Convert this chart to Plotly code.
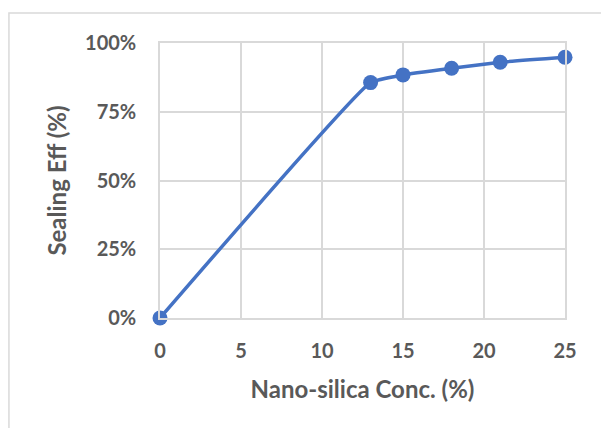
import plotly.graph_objects as go

conc = [0, 13, 15, 18, 21, 25]
eff = [0.0, 0.856, 0.884, 0.908, 0.930, 0.948]
x_ticks = [0, 5, 10, 15, 20, 25]
y_ticks = [0, 0.25, 0.5, 0.75, 1.0]
y_tick_text = ["0%", "25%", "50%", "75%", "100%"]

blue = "#4472C4"
grid = "#d9d9d9"
txt = "#595959"
fnt = "Lato"

fig = go.Figure()
fig.add_trace(go.Scatter(
    x=conc, y=eff, mode="lines+markers",
    line=dict(color=blue, width=3.5, shape="spline", smoothing=0.35),
    marker=dict(color=blue, size=15),
    cliponaxis=False, showlegend=False,
))

fig.update_layout(
    width=601, height=428,
    margin=dict(l=160, r=36, t=43, b=110),
    paper_bgcolor="white", plot_bgcolor="white",
    font=dict(family=fnt, color=txt),
    xaxis=dict(
        range=[0, 25], tickvals=x_ticks, showgrid=True, gridcolor=grid, gridwidth=1.5,
        zeroline=False, showline=True, linecolor=grid, linewidth=1.5, mirror=True,
        ticks="outside", ticklen=14, tickcolor="rgba(0,0,0,0)",
        tickfont=dict(size=20, family=fnt, color=txt, weight="bold"),
        title=dict(text="<b>Nano-silica Conc. (%)</b>", font=dict(size=24, family=fnt, color=txt), standoff=20),
    ),
    yaxis=dict(
        range=[0, 1], tickvals=y_ticks, ticktext=y_tick_text, showgrid=True, gridcolor=grid, gridwidth=1.5,
        zeroline=False, showline=True, linecolor=grid, linewidth=1.5, mirror=True,
        ticks="outside", ticklen=18, tickcolor="rgba(0,0,0,0)",
        tickfont=dict(size=20, family=fnt, color=txt, weight="bold"),
        title=dict(text="<b>Sealing Eff (%)</b>", font=dict(size=24, family=fnt, color=txt), standoff=12),
    ),
    shapes=[dict(type="rect", xref="paper", yref="paper", x0=-0.373, x1=1.2, y0=-0.5, y1=1.109,
                 line=dict(color=grid, width=1.5), fillcolor="rgba(0,0,0,0)", layer="below")],
)

fig.write_html("out.html", config={"displayModeBar": False},
               post_script="document.body.style.margin='0';")
